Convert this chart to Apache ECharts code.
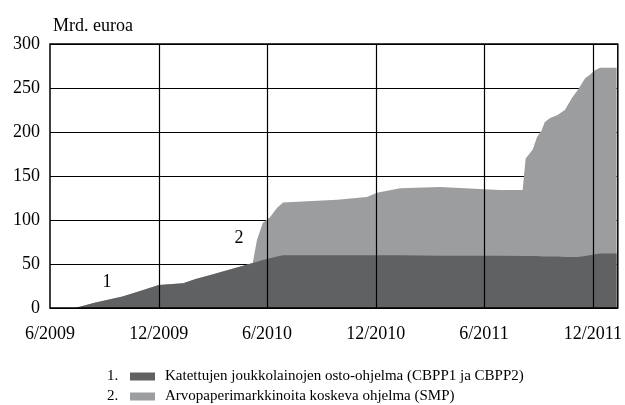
<!DOCTYPE html>
<html>
<head>
<meta charset="utf-8">
<script src="https://cdn.jsdelivr.net/npm/echarts@6/dist/echarts.min.js"></script>
<style>html,body{margin:0;padding:0;background:#fff}#c{width:625px;height:405px}</style>
</head>
<body>
<div id="c"></div>
<script>
var dates = ['2009-06-01','2009-07-13','2009-08-15','2009-10-01','2009-11-01','2009-12-01','2010-01-11','2010-02-01','2010-03-01','2010-04-01','2010-05-08','2010-05-15','2010-05-25','2010-06-06','2010-06-18','2010-06-28','2010-09-27','2010-11-16','2010-12-03','2011-01-11','2011-03-19','2011-06-27','2011-08-05','2011-08-07','2011-08-10','2011-08-22','2011-08-29','2011-09-06','2011-09-11','2011-09-20','2011-10-02','2011-10-15','2011-10-27','2011-11-06','2011-11-18','2011-11-26','2011-12-04','2011-12-13','2012-01-10'];
var cbpp = [0,0,6,13,19.5,26,28,33,38,44,51,52.5,54.5,56.5,58.5,60,60,60,60,60,59.5,59.5,59,59,59,59,59,58.5,58.5,58.5,58.5,58,58,58,59,60,61,62,62];
var smp  = [0,0,0,0,0,0,0,0,0,0,0,24.5,42.5,46.5,55.5,60,63,66,71,76,78,74.5,75,90,111,121,135,143.5,152.5,157.5,160.5,167,181,190,202,205,209,211,211];
var xTicks = ['2009-06-01','2009-12-01','2010-06-01','2010-12-01','2011-06-01','2011-12-01'];
var xTickLabels = ['6/2009','12/2009','6/2010','12/2010','6/2011','12/2011'];
var seriesNames = ['Katettujen joukkolainojen osto-ohjelma (CBPP1 ja CBPP2)','Arvopaperimarkkinoita koskeva ohjelma (SMP)'];
var yTitle = 'Mrd. euroa';
var xMin = '2009-06-01', xMax = '2012-01-12';

function ts(d){ return new Date(d + 'T00:00:00Z').getTime(); }
var font = '"Liberation Serif", "Times New Roman", serif';
var labelMap = {};
xTicks.forEach(function(d,i){ labelMap[ts(d)] = xTickLabels[i]; });
// SMP is stacked on top of CBPP: its upper edge is cbpp + smp
var smpTop = smp.map(function(v,i){ return v + cbpp[i]; });

var darkC = '#606163', lightC = '#9c9d9f';
var legendText = {fontFamily: font, fontSize: 15, color: '#000', padding: [0, 0, 0, 5]};

var chart = echarts.init(document.getElementById('c'));
chart.setOption({
  animation: false,
  textStyle: {fontFamily: font, color: '#000'},
  grid: {left: 50, right: 7, top: 44, bottom: 97, show: true, borderColor: '#000', borderWidth: 1.5, backgroundColor: 'transparent', z: 10},
  title: {text: yTitle, left: 48, top: 12, textStyle: {fontFamily: font, fontSize: 18, fontWeight: 'normal', color: '#000'}},
  legend: [
    {left: 130, top: 369, padding: 0, itemWidth: 25, itemHeight: 8, itemGap: 10, icon: 'rect', textStyle: legendText, data: [seriesNames[0]], selectedMode: false},
    {left: 130, top: 389, padding: 0, itemWidth: 25, itemHeight: 8, itemGap: 10, icon: 'rect', textStyle: legendText, data: [seriesNames[1]], selectedMode: false}
  ],
  graphic: [
    {type: 'text', left: 107, top: 369, style: {text: '1.', font: '15px "Liberation Serif"', fill: '#000'}},
    {type: 'text', left: 107, top: 389, style: {text: '2.', font: '15px "Liberation Serif"', fill: '#000'}}
  ],
  xAxis: {
    type: 'value', min: ts(xMin), max: ts(xMax),
    axisLine: {show: false}, axisTick: {show: false}, splitLine: {show: false},
    axisLabel: {
      customValues: xTicks.map(ts), margin: 17, showMinLabel: true, showMaxLabel: true,
      fontFamily: font, fontSize: 18, color: '#000',
      formatter: function(v){ return labelMap[v] || ''; }
    }
  },
  yAxis: {
    type: 'value', min: 0, max: 300, interval: 50,
    axisLine: {show: false}, axisTick: {show: false},
    splitLine: {show: true, lineStyle: {color: '#000', width: 1.2}},
    axisLabel: {fontFamily: font, fontSize: 18, color: '#000', margin: 10}
  },
  series: [
    {
      name: seriesNames[1], type: 'line', symbol: 'none', showSymbol: false,
      lineStyle: {width: 0}, itemStyle: {color: lightC}, areaStyle: {color: lightC, opacity: 1},
      data: dates.map(function(d,i){ return [ts(d), smpTop[i]]; }),
      markPoint: {
        symbol: 'circle', symbolSize: 1, itemStyle: {color: 'rgba(0,0,0,0)'},
        label: {show: true, position: 'inside', formatter: '{b}', fontFamily: font, fontSize: 18, color: '#000'},
        data: [{name: '2', coord: [ts('2010-04-15'), 79]}, {name: '1', coord: [ts('2009-09-05'), 29]}]
      },
      markLine: {
        silent: true, symbol: 'none', label: {show: false},
        lineStyle: {color: '#000', width: 1.2, type: 'solid'},
        data: xTicks.slice(1).map(function(d){ return {xAxis: ts(d)}; })
      }
    },
    {
      name: seriesNames[0], type: 'line', symbol: 'none', showSymbol: false,
      lineStyle: {width: 0}, itemStyle: {color: darkC}, areaStyle: {color: darkC, opacity: 1},
      data: dates.map(function(d,i){ return [ts(d), cbpp[i]]; })
    }
  ]
});
</script>
</body>
</html>
